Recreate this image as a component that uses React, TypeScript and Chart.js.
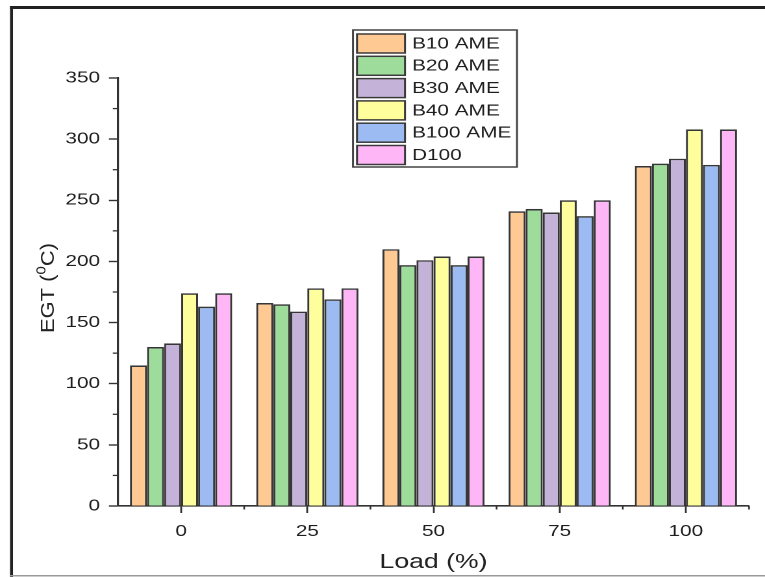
import React, { useEffect, useRef } from 'react';
import { Chart, registerables } from 'chart.js';

Chart.register(...registerables);

// ---- data ----
const loads = ['0', '25', '50', '75', '100'];
const seriesNames = ['B10 AME', 'B20 AME', 'B30 AME', 'B40 AME', 'B100 AME', 'D100'];
const b10 = [115, 166, 210, 241, 278];
const b20 = [130, 165, 197, 243, 280];
const b30 = [133, 159, 201, 240, 284];
const b40 = [174, 178, 204, 250, 308];
const b100 = [163, 169, 197, 237, 279];
const d100 = [174, 178, 204, 250, 308];
const seriesColors = ['#FFC994', '#9EDC9B', '#C4B2D8', '#FFFE9C', '#9CBBF2', '#FEB6F7'];
const yMin = 0;
const yMax = 350;
const yStep = 50;
const xTitle = 'Load (%)';
const yTitleMain = 'EGT (';
const yTitleSup = '0';
const yTitleEnd = 'C)';

// ---- layout (internal canvas is stretched horizontally to 765px) ----
const W_INT = 589;
const H_INT = 577;
const SX = 765 / W_INT;
const FONT = '"Liberation Sans", Arial, Helvetica, sans-serif';

const decor = {
  id: 'decor',
  beforeDraw(chart: any) {
    const ctx = chart.ctx;
    ctx.save();
    ctx.fillStyle = '#ffffff';
    ctx.fillRect(0, 0, chart.width, chart.height);
    ctx.fillStyle = '#222222';
    ctx.fillRect(10 / SX, 6, 3 / SX, chart.height - 6);
    ctx.fillRect(10 / SX, 6, chart.width, 3);
    ctx.fillStyle = '#9a9a9a';
    ctx.fillRect(10 / SX, 575, chart.width, 1.5);
    ctx.restore();
  },
  afterDraw(chart: any) {
    const ctx = chart.ctx;
    const { left, right } = chart.chartArea;
    const xs = chart.scales.x;
    const ys = chart.scales.y;
    ctx.save();
    // minor ticks
    ctx.strokeStyle = '#333333';
    ctx.lineWidth = 1.3;
    for (let v = yMin + yStep / 2; v < yMax; v += yStep) {
      const py = ys.getPixelForValue(v);
      ctx.beginPath();
      ctx.moveTo(left - 4, py);
      ctx.lineTo(left, py);
      ctx.stroke();
    }
    const half = (xs.getPixelForValue(1) - xs.getPixelForValue(0)) / 2;
    const bottom = chart.chartArea.bottom;
    for (let i = 0; i < loads.length; i++) {
      const px = xs.getPixelForValue(i) + half;
      ctx.beginPath();
      ctx.moveTo(px, bottom);
      ctx.lineTo(px, bottom + 3.5);
      ctx.stroke();
    }

    // x title
    ctx.fillStyle = '#222222';
    ctx.font = `20.5px ${FONT}`;
    ctx.textAlign = 'center';
    ctx.textBaseline = 'alphabetic';
    ctx.fillText(xTitle, (left + right) / 2, 568);

    // y title (rotated, with superscript)
    ctx.save();
    ctx.translate(36.5, 288);
    ctx.rotate(-Math.PI / 2);
    ctx.font = `14.3px ${FONT}`;
    const w1 = ctx.measureText(yTitleMain).width;
    const w3 = ctx.measureText(yTitleEnd).width;
    ctx.font = `10px ${FONT}`;
    const w2 = ctx.measureText(yTitleSup).width;
    const total = w1 + w2 + w3;
    ctx.scale(90 / total, 1);
    ctx.textAlign = 'left';
    let x0 = -total / 2;
    ctx.font = `14.3px ${FONT}`;
    ctx.fillText(yTitleMain, x0, 5);
    x0 += w1;
    ctx.font = `10px ${FONT}`;
    ctx.fillText(yTitleSup, x0, -1.5);
    x0 += w2;
    ctx.font = `14.3px ${FONT}`;
    ctx.fillText(yTitleEnd, x0, 5);
    ctx.restore();

    // legend
    const lx = 353 / SX;
    const lr = 517 / SX;
    const lt = 30;
    const lb = 167;
    ctx.fillStyle = '#ffffff';
    ctx.fillRect(lx, lt, lr - lx, lb - lt);
    ctx.strokeStyle = '#444444';
    ctx.lineWidth = 1.5;
    ctx.strokeRect(lx, lt, lr - lx, lb - lt);
    const sw0 = 357 / SX;
    const sw1 = 405 / SX;
    ctx.font = `16px ${FONT}`;
    ctx.textAlign = 'left';
    ctx.textBaseline = 'middle';
    chart.data.datasets.forEach((ds: any, i: number) => {
      const top = 34 + i * 22.3;
      ctx.fillStyle = ds.backgroundColor;
      ctx.fillRect(sw0, top, sw1 - sw0, 19);
      ctx.strokeStyle = '#3a3a3a';
      ctx.lineWidth = 1.5;
      ctx.strokeRect(sw0, top, sw1 - sw0, 19);
      ctx.fillStyle = '#1e1e1e';
      ctx.fillText(ds.label, 412 / SX, top + 10);
    });
    ctx.restore();
  },
};

export default function App() {
  const canvasRef = useRef<HTMLCanvasElement | null>(null);

  useEffect(() => {
    const canvas = canvasRef.current;
    if (!canvas) return;
    const seriesValues = [b10, b20, b30, b40, b100, d100];
    const chart = new Chart(canvas, {
      type: 'bar',
      data: {
        labels: loads,
        datasets: seriesNames.map((name, i) => ({
          label: name,
          data: seriesValues[i],
          backgroundColor: seriesColors[i],
          borderColor: '#363636',
          borderWidth: 1.6,
          categoryPercentage: 0.81,
          barPercentage: 1.0,
        })),
      },
      options: {
        responsive: false,
        animation: false,
        devicePixelRatio: 2,
        events: [],
        layout: { padding: { left: 0, right: W_INT - 749 / SX, top: 78, bottom: 0 } },
        plugins: {
          legend: { display: false },
          tooltip: { enabled: false },
          title: { display: false },
        },
        scales: {
          x: {
            type: 'category',
            offset: true,
            afterFit: (s: any) => {
              s.height = H_INT - 506;
            },
            border: { display: true, color: '#333333', width: 1.6 },
            grid: {
              display: true,
              offset: false,
              drawOnChartArea: false,
              drawTicks: true,
              tickLength: 7,
              tickColor: '#333333',
              tickWidth: 1.4,
            },
            ticks: {
              color: '#1e1e1e',
              font: { family: FONT, size: 16 },
              padding: 9,
              maxRotation: 0,
              autoSkip: false,
            },
          },
          y: {
            min: yMin,
            max: yMax,
            afterFit: (s: any) => {
              s.width = 118 / SX;
            },
            border: { display: true, color: '#333333', width: 1.6 },
            grid: {
              display: true,
              drawOnChartArea: false,
              drawTicks: true,
              tickLength: 7,
              tickColor: '#333333',
              tickWidth: 1.4,
            },
            ticks: {
              stepSize: yStep,
              color: '#1e1e1e',
              font: { family: FONT, size: 16 },
              padding: 6.8,
              autoSkip: false,
            },
          },
        },
      },
      plugins: [decor],
    });
    return () => chart.destroy();
  }, []);

  return (
    <div style={{ position: 'absolute', left: 0, top: 0, width: 765, height: 577, overflow: 'hidden', background: '#fff' }}>
      <canvas
        ref={canvasRef}
        width={W_INT}
        height={H_INT}
        style={{ width: '765px', height: '577px', display: 'block' }}
      />
    </div>
  );
}
